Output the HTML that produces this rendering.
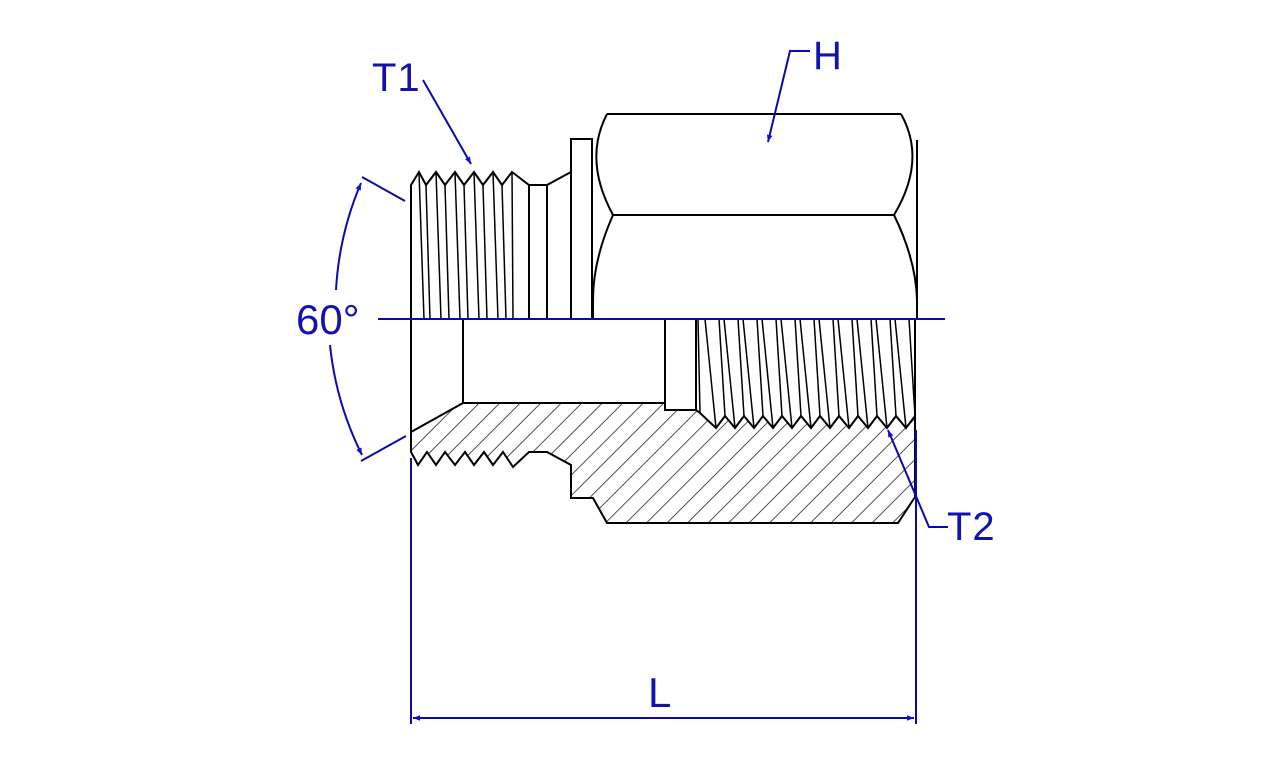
<!DOCTYPE html>
<html><head><meta charset="utf-8"><style>
html,body{margin:0;padding:0;background:#fff;}
svg{display:block;}
text{font-family:"Liberation Sans",sans-serif;fill:#1212b0;}
</style></head><body>
<svg width="1280" height="760" viewBox="0 0 1280 760" xmlns="http://www.w3.org/2000/svg">
<defs>
<pattern id="h" patternUnits="userSpaceOnUse" width="14.5" height="14.5" patternTransform="rotate(45)">
<line x1="0" y1="0" x2="0" y2="14.5" stroke="#000" stroke-width="1.4"/>
</pattern>
<marker id="a" viewBox="0 0 10 10" refX="10" refY="5" markerWidth="18" markerHeight="7" markerUnits="userSpaceOnUse" orient="auto">
<path d="M0,1 L10,5 L0,9 z" fill="#1010d0"/>
</marker>
</defs>

<path d="M411,432 L463,403 L665,403 L665,410 L696,410 L700,413 L716,428 L725,416 L735,428 L744,416 L754,428 L763,416 L773,428 L782,416 L792,428 L801,416 L811,428 L820,416 L830,428 L839,416 L849,428 L858,416 L868,428 L877,416 L887,428 L896,416 L906,428 L915,416 L915,497 L898,523 L607,523 L593,498 L571,498 L571,465 L547,452 L529,452 L513,467 L503,452 L493,465 L484,452 L474,465 L465,452 L455,465 L445,452 L436,465 L427,452 L418,465 L411,452 Z" fill="url(#h)" stroke="#000" stroke-width="2" stroke-linejoin="miter"/>

<g stroke="#000" stroke-width="2" fill="none">
<path d="M411,319 L411,185 L419,172 L426,185 L436,172 L445,185 L455,172 L464,185 L474,172 L483,185 L493,172 L502,185 L512,172 L529,185 L547,185 L571,172"/>
<g stroke-width="1.5">
<line x1="419" y1="172" x2="424" y2="319"/><line x1="426" y1="185" x2="430" y2="319"/>
<line x1="436" y1="172" x2="441" y2="319"/><line x1="445" y1="185" x2="449" y2="319"/>
<line x1="455" y1="172" x2="460" y2="319"/><line x1="464" y1="185" x2="468" y2="319"/>
<line x1="474" y1="172" x2="479" y2="319"/><line x1="483" y1="185" x2="487" y2="319"/>
<line x1="493" y1="172" x2="498" y2="319"/><line x1="502" y1="185" x2="506" y2="319"/>
<line x1="512" y1="172" x2="513" y2="319"/>
</g>
<line x1="529" y1="185" x2="529" y2="319"/>
<line x1="547" y1="185" x2="547" y2="319"/>
<rect x="571" y="139" width="21" height="180"/>
<path d="M607,114 L901,114"/>
<path d="M607,114 Q583,160 613,215"/>
<path d="M901,114 Q927,160 894,215"/>
<path d="M613,215 L894,215"/>
<path d="M613,215 Q593,260 593,300 L593,319"/>
<path d="M894,215 Q916,260 917,300"/>
<line x1="917" y1="140" x2="917" y2="319"/>
<line x1="411" y1="319" x2="411" y2="452"/>
<line x1="463" y1="319" x2="463" y2="403"/>
<line x1="665" y1="319" x2="665" y2="410"/>
<line x1="696" y1="319" x2="696" y2="410"/>
<line x1="915" y1="319" x2="915" y2="497"/>
<g stroke-width="1.5">
<line x1="700" y1="413" x2="698" y2="319"/>
<line x1="716" y1="428" x2="705" y2="319"/><line x1="725" y1="416" x2="719" y2="319"/>
<line x1="735" y1="428" x2="724" y2="319"/><line x1="744" y1="416" x2="738" y2="319"/>
<line x1="754" y1="428" x2="743" y2="319"/><line x1="763" y1="416" x2="757" y2="319"/>
<line x1="773" y1="428" x2="762" y2="319"/><line x1="782" y1="416" x2="776" y2="319"/>
<line x1="792" y1="428" x2="781" y2="319"/><line x1="801" y1="416" x2="795" y2="319"/>
<line x1="811" y1="428" x2="800" y2="319"/><line x1="820" y1="416" x2="814" y2="319"/>
<line x1="830" y1="428" x2="819" y2="319"/><line x1="839" y1="416" x2="833" y2="319"/>
<line x1="849" y1="428" x2="838" y2="319"/><line x1="858" y1="416" x2="852" y2="319"/>
<line x1="868" y1="428" x2="857" y2="319"/><line x1="877" y1="416" x2="871" y2="319"/>
<line x1="887" y1="428" x2="876" y2="319"/><line x1="896" y1="416" x2="890" y2="319"/>
<line x1="906" y1="428" x2="895" y2="319"/><line x1="915" y1="416" x2="909" y2="319"/>
</g>
</g>

<g stroke="#0a0aa8" stroke-width="2" fill="none">
<line x1="378" y1="319" x2="945" y2="319"/>
<line x1="411" y1="458" x2="411" y2="724"/>
<line x1="916" y1="430" x2="916" y2="724"/>
<line x1="440" y1="718" x2="887" y2="718"/>
<line x1="440" y1="718" x2="413" y2="718" marker-end="url(#a)"/>
<line x1="887" y1="718" x2="914" y2="718" marker-end="url(#a)"/>
<line x1="362" y1="177" x2="405" y2="201"/>
<line x1="361" y1="461" x2="406" y2="436"/>
<path d="M336,290 A318,318 0 0 1 361,183" marker-end="url(#a)"/>
<path d="M330,345 A318,318 0 0 0 362,455" marker-end="url(#a)"/>
<line x1="423" y1="80" x2="471" y2="164" marker-end="url(#a)"/>
<polyline points="810,51 790,51 768,142" marker-end="url(#a)"/>
<polyline points="948,527 929,527 888,430" marker-end="url(#a)"/>
</g>
<text x="372" y="91" font-size="40" letter-spacing="1">T1</text>
<text x="813" y="69" font-size="40">H</text>
<text x="947" y="540" font-size="40" letter-spacing="1">T2</text>
<text x="296" y="334" font-size="42">60°</text>
<text x="648" y="707" font-size="42">L</text>
</svg>
</body></html>
